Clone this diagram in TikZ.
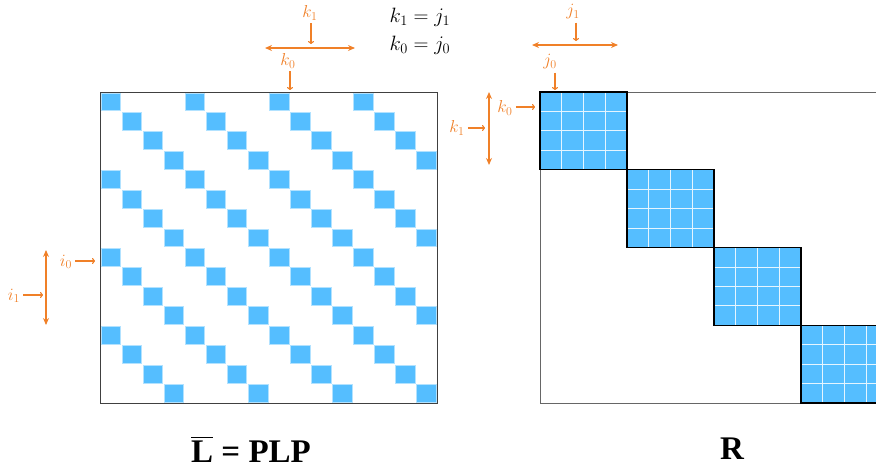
\documentclass[tikz,border=0pt]{standalone}
\usepackage{amsmath}
\usepackage{fontspec}
\setmainfont{Liberation Serif}
\usetikzlibrary{arrows.meta, positioning}
\definecolor{cellblue}{RGB}{85,190,255}
\definecolor{idxorange}{RGB}{240,128,40}

\begin{document}
\begin{tikzpicture}[x=1pt, y=-1pt,
        idx/.style={text=idxorange, inner sep=1pt, font=\fontsize{18}{20}\selectfont},
        ptr/.style={idxorange, line width=1.1pt, -{To[length=3pt, width=6pt]}},
        spanarrow/.style={idxorange, line width=1.2pt, {Stealth[length=7pt, width=6pt]}-{Stealth[length=7pt, width=6pt]}},
        eqn/.style={inner sep=1pt, font=\fontsize{22}{24}\selectfont},
        caption/.style={inner sep=0pt, font=\fontsize{33}{36}\selectfont\bfseries}]
        \useasboundingbox (0,0) rectangle (876,469);

        % Left matrix: cyclic diagonal cells
        \foreach \r in {0,...,15}
            \foreach \b in {0,...,3} {
                \pgfmathsetmacro{\c}{4*\b+mod(\r,4)}
                \filldraw[fill=cellblue, draw=cellblue!45!white, line width=0.6pt]
                    ({100.8+\c*21.0625}, {92.8+\r*19.4375}) rectangle ++(19.6, 17.9);
            }
        \node[draw=black!75, line width=0.8pt, minimum width=337pt, minimum height=311pt,
              inner sep=0pt, anchor=north west] (Lmat) at (100,92) {};

        % Right matrix: block diagonal
        \begin{scope}
            \clip (0,0) rectangle (876,469);
            \draw[black!60, line width=0.8pt] (540,92) rectangle (888,403);
            \foreach \b in {0,...,3} {
                \begin{scope}[shift={({540+87*\b},{92+77.75*\b})}]
                    \fill[cellblue] (0,0) rectangle (87,77.75);
                    \foreach \g in {1,2,3} {
                        \draw[white!85!cellblue, line width=0.8pt] ({\g*21.75},0) -- ({\g*21.75},77.75);
                        \draw[white!85!cellblue, line width=0.8pt] (0,{\g*19.4375}) -- (87,{\g*19.4375});
                    }
                    \draw[black, line width=1.3pt] (0,0) rectangle (87,77.75);
                \end{scope}
            }
        \end{scope}

        % Column indices of the left matrix
        \node[idx] (kone) at (310,13) {$k_1$};
        \coordinate (konetip) at (311,44);
        \draw[ptr] (kone.south -| konetip) ++(0,2) -- (konetip);
        \coordinate (kspanL) at (265,48);
        \coordinate (kspanR) at (355,48);
        \draw[spanarrow] (kspanL) -- (kspanR);
        \node[idx] (kzero) at (288,61) {$k_0$};
        \coordinate (kzerotip) at (290,90);
        \draw[ptr] (kzero.south -| kzerotip) ++(0,2) -- (kzerotip);

        % Index identities
        \node[eqn] (eqone) at (420,17) {$k_1 = j_1$};
        \node[eqn] (eqzero) at (420,45) {$k_0 = j_0$};

        % Row indices of the left matrix
        \node[idx] (izero) at (66,262) {$i_0$};
        \coordinate (izerotip) at (95,261);
        \draw[ptr] (izero.east |- izerotip) ++(2,0) -- (izerotip);
        \coordinate (ispanT) at (46,250);
        \coordinate (ispanB) at (46,325);
        \draw[spanarrow] (ispanT) -- (ispanB);
        \node[idx] (ione) at (14,296) {$i_1$};
        \coordinate (ionetip) at (43,295);
        \draw[ptr] (ione.east |- ionetip) ++(2,0) -- (ionetip);

        % Column indices of the right matrix
        \node[idx] (jone) at (573,12) {$j_1$};
        \coordinate (jonetip) at (576,41);
        \draw[ptr] (jone.south -| jonetip) ++(0,2) -- (jonetip);
        \coordinate (jspanL) at (532,45);
        \coordinate (jspanR) at (618,45);
        \draw[spanarrow] (jspanL) -- (jspanR);
        \node[idx] (jzero) at (550,62) {$j_0$};
        \coordinate (jzerotip) at (555,90);
        \draw[ptr] (jzero.south -| jzerotip) ++(0,2) -- (jzerotip);

        % Row indices of the right matrix
        \node[idx] (rkzero) at (505,108) {$k_0$};
        \coordinate (rkzerotip) at (535,107);
        \draw[ptr] (rkzero.east |- rkzerotip) ++(2,0) -- (rkzerotip);
        \coordinate (rkspanT) at (489,92);
        \coordinate (rkspanB) at (489,165);
        \draw[spanarrow] (rkspanT) -- (rkspanB);
        \node[idx] (rkone) at (457,128) {$k_1$};
        \coordinate (rkonetip) at (485,128);
        \draw[ptr] (rkone.east |- rkonetip) ++(2,0) -- (rkonetip);

        % Captions
        \node[caption] (Lcap) at (251,449) {$\overline{\text{\bfseries L}}$ = PLP};
        \node[caption] (Rcap) at (732,449) {R};
\end{tikzpicture}
\end{document}
